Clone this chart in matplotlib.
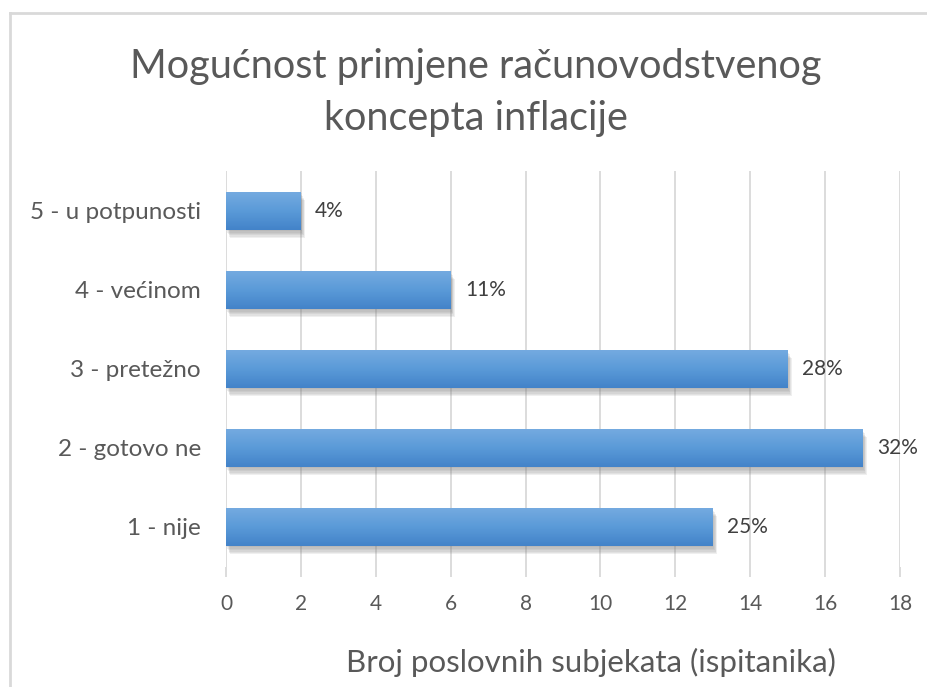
import matplotlib.pyplot as plt
import matplotlib.patheffects as pe
from matplotlib.patches import Rectangle
from matplotlib.colors import LinearSegmentedColormap
import numpy as np

# Podaci ankete
kategorije = ['1 - nije', '2 - gotovo ne', '3 - pretežno', '4 - većinom', '5 - u potpunosti']
broj_subjekata = [13, 17, 15, 6, 2]
x_ticks = [0, 2, 4, 6, 8, 10, 12, 14, 16, 18]

naslov = 'Mogućnost primjene računovodstvenog\nkoncepta inflacije'
x_naslov = 'Broj poslovnih subjekata (ispitanika)'

plt.rcParams['font.family'] = ['Lato', 'DejaVu Sans']
siva = '#595959'

fig = plt.figure(figsize=(9.28, 6.87), dpi=100)
ax = fig.add_axes([0.2435, 0.1754, 0.7263, 0.575])

# Okvir grafikona (samo lijevo i gore)
fig.add_artist(plt.Line2D([0.0105, 0.0105], [0, 0.981], color='#d9d9d9', lw=2, transform=fig.transFigure))
fig.add_artist(plt.Line2D([0.0105, 1.0], [0.981, 0.981], color='#d9d9d9', lw=2, transform=fig.transFigure))

ukupno = sum(broj_subjekata)
visina = 0.48
gradijent = np.linspace(0, 1, 64).reshape(-1, 1)
boje = LinearSegmentedColormap.from_list('plava', ['#4383c9', '#5a9ad8', '#74aae0'])

# meka sjena: nekoliko prozirnih slojeva s rastućim pomakom
sjena = [pe.SimplePatchShadow(offset=(dx, -dy), shadow_rgbFace='#808080', alpha=0.12)
         for dx, dy in [(0.5, 1), (1, 2), (1.5, 3), (2, 4), (2.5, 5), (3, 6)]]

for i, v in enumerate(broj_subjekata):
    rect = Rectangle((0, i - visina / 2), v, visina, facecolor='#5b9bd5', edgecolor='none', zorder=3)
    rect.set_path_effects(sjena + [pe.Normal()])
    ax.add_patch(rect)
    img = ax.imshow(gradijent, cmap=boje, origin='lower', aspect='auto',
                    extent=[0, v, i - visina / 2, i + visina / 2], zorder=4)
    img.set_clip_path(rect)
    postotak = round(v / ukupno * 100)
    ax.text(v + 0.38, i, f'{postotak}%', va='center', ha='left', fontsize=15, color='#404040', zorder=5)

ax.set_xlim(0, 18)
ax.set_ylim(-0.5, 4.5)
ax.set_xticks(x_ticks)
ax.set_yticks(range(len(kategorije)))
ax.set_yticklabels(kategorije)
ax.grid(axis='x', color='#d9d9d9', lw=1.3, zorder=0)
ax.set_axisbelow(True)
for s in ax.spines.values():
    s.set_visible(False)
ax.tick_params(axis='x', length=7, color='#d9d9d9', width=1.3, labelsize=15, labelcolor=siva, pad=13)
ax.tick_params(axis='y', length=0, labelsize=17.5, labelcolor=siva, pad=18)

fig.text(0.513, 0.866, naslov, ha='center', va='center', fontsize=28.5, color=siva, linespacing=1.5)
fig.text(0.637, 0.036, x_naslov, ha='center', va='center', fontsize=22.5, color=siva)

fig.savefig('out.png', dpi=100)
